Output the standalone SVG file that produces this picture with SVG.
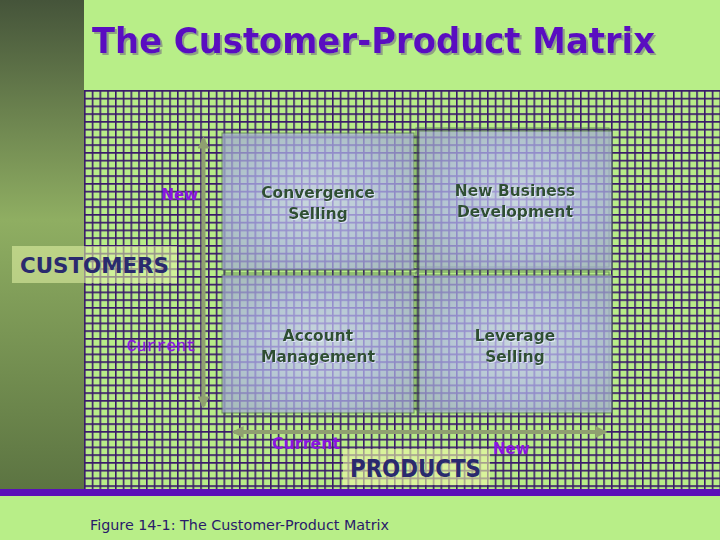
<svg xmlns="http://www.w3.org/2000/svg" width="720" height="540" viewBox="0 0 720 540">
<defs>
<linearGradient id="side" x1="0" y1="0" x2="0" y2="1">
<stop offset="0" stop-color="#45543a"/>
<stop offset="0.45" stop-color="#8fae62"/>
<stop offset="1" stop-color="#5c7442"/>
</linearGradient>
<pattern id="grid" x="84" y="90" width="7.75" height="7.75" patternUnits="userSpaceOnUse">
<rect width="7.75" height="7.75" fill="#b8ec88"/>
<path d="M0.8 0V7.75M0 0.8H7.75" stroke="#3a1a6a" stroke-width="1.6"/>
</pattern>
<radialGradient id="cell" cx="0.5" cy="0.5" r="0.6">
<stop offset="0" stop-color="#d0d0ff"/>
<stop offset="0.6" stop-color="#b4b8f0"/>
<stop offset="1" stop-color="#a4acd4"/>
</radialGradient>
<marker id="ah" viewBox="0 0 10 10" refX="8" refY="5" markerWidth="3" markerHeight="3" orient="auto-start-reverse">
<path d="M0 0L10 5L0 10Z" fill="#8fa070"/>
</marker>
<filter id="sh" x="-5%" y="-20%" width="110%" height="140%">
<feDropShadow dx="2" dy="2" stdDeviation="0.5" flood-color="#8a9a80" flood-opacity="0.9"/>
</filter>
<filter id="glow" x="-5%" y="-20%" width="110%" height="140%">
<feDropShadow dx="1" dy="1" stdDeviation="0.4" flood-color="#e8f0ff" flood-opacity="0.8"/>
</filter>
</defs>
<style>
.cell{fill:url(#cell);opacity:0.72;stroke:#4a6a4a;stroke-width:1}
.cellsh{fill:none;stroke:#4a6a4a;stroke-width:1;opacity:0.7}
.ct{font-family:"DejaVu Sans",Verdana,sans-serif;font-weight:bold;font-size:15.5px;fill:#2f4f30;text-anchor:middle;filter:url(#glow)}
.lab{font-family:"DejaVu Sans",Verdana,sans-serif;font-weight:bold;font-size:15px;fill:#8a14e0}
.axis{font-family:"DejaVu Sans",Verdana,sans-serif;font-weight:bold;fill:#2a2a6e}
.arr{stroke:#8fa070;stroke-width:4;fill:none}
</style>
<rect width="720" height="540" fill="#b8ee88"/>
<rect x="0" y="0" width="84" height="489" fill="url(#side)"/>
<rect x="84" y="90" width="636" height="399" fill="url(#grid)"/>
<rect x="0" y="489" width="720" height="7" fill="#5a10b8"/>
<g id="title">
<text x="92" y="53" font-family="'DejaVu Sans',Verdana,sans-serif" font-weight="bold" font-size="36" fill="#5a10c0" textLength="563" lengthAdjust="spacingAndGlyphs" filter="url(#sh)">The Customer-Product Matrix</text>
</g>
<g id="cell-convergence">
<rect class="cellsh" x="225" y="136" width="192" height="137"/>
<rect class="cell" x="222" y="133" width="192" height="137"/>
<text class="ct" x="318" y="198">Convergence</text>
<text class="ct" x="318" y="219">Selling</text>
</g>
<g id="cell-newbusiness">
<rect class="cellsh" x="416" y="128" width="193" height="139"/>
<rect class="cell" x="419" y="131" width="193" height="139"/>
<text class="ct" x="515" y="196">New Business</text>
<text class="ct" x="515" y="217">Development</text>
</g>
<g id="cell-account">
<rect class="cellsh" x="225" y="278" width="192" height="138"/>
<rect class="cell" x="222" y="275" width="192" height="138"/>
<text class="ct" x="318" y="341">Account</text>
<text class="ct" x="318" y="362">Management</text>
</g>
<g id="cell-leverage">
<rect class="cellsh" x="416" y="272" width="193" height="138"/>
<rect class="cell" x="419" y="275" width="193" height="138"/>
<text class="ct" x="515" y="341">Leverage</text>
<text class="ct" x="515" y="362">Selling</text>
</g>
<g id="connectors">
<line class="arr" x1="203.5" y1="406" x2="203.5" y2="139" marker-start="url(#ah)" marker-end="url(#ah)"/>
<line class="arr" x1="234" y1="432" x2="605" y2="432" marker-start="url(#ah)" marker-end="url(#ah)"/>
</g>
<g id="label-new-y">
<text class="lab" x="198" y="200" text-anchor="end">New</text>
</g>
<g id="label-current-y">
<text x="196" y="351" text-anchor="end" font-family="'Liberation Mono','Courier New',monospace" font-size="16.5" fill="#8a14e0" stroke="#8a14e0" stroke-width="0.3">Current</text>
</g>
<g id="label-current-x">
<text class="lab" x="272" y="449" textLength="68" lengthAdjust="spacingAndGlyphs">Current</text>
</g>
<g id="label-new-x">
<text class="lab" x="493" y="454">New</text>
</g>
<g id="customers">
<rect x="12" y="246" width="165" height="37" fill="#e6f6a8" opacity="0.55"/>
<text class="axis" x="20" y="273" font-size="21" textLength="149" lengthAdjust="spacingAndGlyphs">CUSTOMERS</text>
</g>
<g id="products">
<rect x="343" y="449" width="147" height="36" fill="#eef8a8" opacity="0.6"/>
<text class="axis" x="350" y="477" font-size="24" textLength="131" lengthAdjust="spacingAndGlyphs">PRODUCTS</text>
</g>
<g id="caption">
<text x="90" y="530" font-family="'DejaVu Sans',Verdana,sans-serif" font-size="13.5" fill="#2a1a6a" textLength="299" lengthAdjust="spacingAndGlyphs">Figure 14-1: The Customer-Product Matrix</text>
</g>
</svg>
